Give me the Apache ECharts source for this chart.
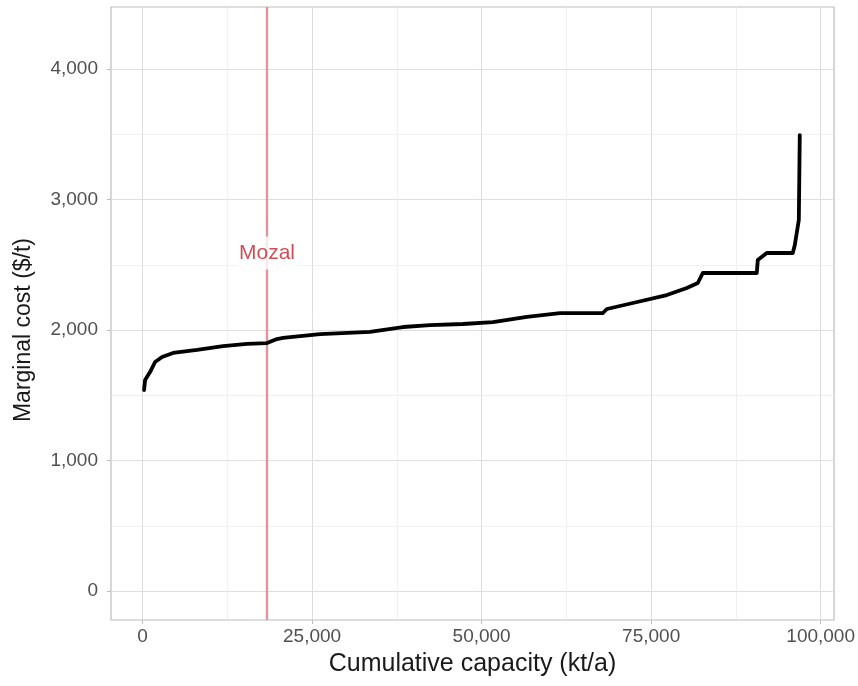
<!DOCTYPE html>
<html>
<head>
<meta charset="utf-8">
<script src="https://cdn.jsdelivr.net/npm/echarts@6/dist/echarts.min.js"></script>
<style>
html,body{margin:0;padding:0;background:#fff;}
#chart{width:858px;height:686px;}
</style>
</head>
<body>
<div id="chart"></div>
<script>
// ---- data ----
var capacity = [220, 370, 1100, 1840, 2870, 4490, 8020, 11850, 15380, 18320, 19790, 20680, 26120, 33480, 38340, 42310, 47170, 51580, 56590, 61450, 67780, 68360, 72190, 77190, 80130, 81750, 82480, 90430, 90580, 91900, 95730, 96030, 96620, 96760];
var marginalCost = [1540, 1617, 1678, 1755, 1793, 1824, 1847, 1877, 1893, 1900, 1931, 1939, 1969, 1985, 2023, 2038, 2046, 2061, 2100, 2130, 2130, 2161, 2207, 2268, 2322, 2360, 2437, 2437, 2536, 2590, 2590, 2651, 2843, 3494];
var xTicks = [0, 25000, 50000, 75000, 100000];
var yTicks = [0, 1000, 2000, 3000, 4000];
var mozalCapacity = 18320;
var mozalLabelCost = 2590;
var mozalLabel = "Mozal";
var xTitle = "Cumulative capacity (kt/a)";
var yTitle = "Marginal cost ($/t)";
// panel ranges (with ggplot-like expansion)
var xRange = [-4650, 101800];
var yRange = [-222, 4475];

function fmt(v){ return String(Math.round(v)).replace(/\B(?=(\d{3})+(?!\d))/g, ","); }

var FONT = "Liberation Sans, Arial, Helvetica, sans-serif";
var chart = echarts.init(document.getElementById('chart'), null, {renderer:'canvas'});

// pixel layout of the panel
var P = {left:111, top:7, right:834, bottom:620};
function xPix(v){ return P.left + (v - xRange[0])/(xRange[1]-xRange[0])*(P.right-P.left); }
function yPix(v){ return P.bottom - (v - yRange[0])/(yRange[1]-yRange[0])*(P.bottom-P.top); }
var x0 = xPix(xTicks[0]), x1 = xPix(xTicks[xTicks.length-1]);
var y0 = yPix(yTicks[0]), y1 = yPix(yTicks[yTicks.length-1]);

var pts = capacity.map(function(c,i){ return [c, marginalCost[i]]; });

var option = {
  backgroundColor:'#ffffff',
  animation:false,
  grid:[
    {left:P.left, top:P.top, width:P.right-P.left, height:P.bottom-P.top, show:true, borderColor:'#bdbdbd', borderWidth:1.2, backgroundColor:'transparent', containLabel:false},
    {left:x0, top:P.top, width:x1-x0, height:P.bottom-P.top, containLabel:false},
    {left:P.left, top:y1, width:P.right-P.left, height:y0-y1, containLabel:false}
  ],
  xAxis:[
    {gridIndex:0, type:'value', min:xRange[0], max:xRange[1], axisLine:{show:false}, axisTick:{show:false}, axisLabel:{show:false}, splitLine:{show:false},
     name:xTitle, nameLocation:'middle', nameGap:32, nameTextStyle:{fontFamily:FONT, fontSize:25, color:'#1a1a1a'}},
    {gridIndex:1, type:'value', min:xTicks[0], max:xTicks[xTicks.length-1], interval:xTicks[1]-xTicks[0],
     axisLine:{show:false}, axisTick:{show:true, length:4, lineStyle:{color:'#bdbdbd', width:1}},
     axisLabel:{show:true, margin:7, fontFamily:FONT, fontSize:19, color:'#505050', formatter:fmt, showMinLabel:true, showMaxLabel:true},
     splitLine:{show:true, lineStyle:{color:'#dedede', width:1}},
     minorTick:{show:false, splitNumber:2},
     minorSplitLine:{show:true, lineStyle:{color:'#ececec', width:0.8}}},
    {gridIndex:2, type:'value', min:0, max:1, show:false}
  ],
  yAxis:[
    {gridIndex:0, type:'value', min:yRange[0], max:yRange[1], show:false},
    {gridIndex:1, type:'value', min:0, max:1, show:false},
    {gridIndex:2, type:'value', min:yTicks[0], max:yTicks[yTicks.length-1], interval:yTicks[1]-yTicks[0],
     axisLine:{show:false}, axisTick:{show:true, length:4, lineStyle:{color:'#bdbdbd', width:1}},
     axisLabel:{show:true, margin:13, fontFamily:FONT, fontSize:19, color:'#505050', formatter:fmt, showMinLabel:true, showMaxLabel:true},
     splitLine:{show:true, lineStyle:{color:'#dedede', width:1}},
     minorTick:{show:false, splitNumber:2},
     minorSplitLine:{show:true, lineStyle:{color:'#ececec', width:0.8}},
     name:yTitle, nameLocation:'middle', nameGap:76, nameRotate:90, nameTextStyle:{fontFamily:FONT, fontSize:23, color:'#1a1a1a'}}
  ],
  series:[
    {type:'line', xAxisIndex:0, yAxisIndex:0, data:[], silent:true, z:3,
     markLine:{silent:true, symbol:['none','none'], label:{show:false},
       lineStyle:{color:'#e2939a', width:2.4, type:'solid'},
       data:[{xAxis:mozalCapacity}]}},
    {type:'line', xAxisIndex:0, yAxisIndex:0, data:pts, showSymbol:false, symbol:'none', smooth:false, z:5,
     lineStyle:{color:'#000000', width:3.8, join:'round', cap:'round'}},
    {type:'scatter', xAxisIndex:0, yAxisIndex:0, data:[[mozalCapacity, mozalLabelCost]], symbolSize:0, z:6, silent:true,
     label:{show:true, position:'inside', formatter:mozalLabel, fontFamily:FONT, fontSize:21, color:'#c41f2a',
       backgroundColor:'#ffffff', padding:[6,2,6,2]}}
  ]
};
chart.setOption(option);
</script>
</body>
</html>
